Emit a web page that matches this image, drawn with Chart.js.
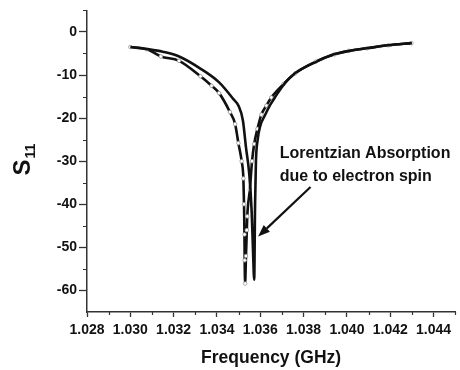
<!DOCTYPE html>
<html>
<head>
<meta charset="utf-8">
<script src="https://cdn.jsdelivr.net/npm/chart.js@4/dist/chart.umd.min.js"></script>
<style>
  html, body { margin: 0; padding: 0; background: #fff; }
</style>
</head>
<body>
<canvas id="s11Chart" width="460" height="370"></canvas>
<script>
// S11 sweep around the spin resonance, two traces
const freqA = [1.0300, 1.0308, 1.0315, 1.0322, 1.0332, 1.0341, 1.03476, 1.0350, 1.0352, 1.03534, 1.03549,
  1.0356, 1.03566, 1.03572, 1.03576, 1.0358, 1.03588, 1.0360, 1.0362, 1.03645, 1.0367, 1.0371, 1.0376,
  1.0386, 1.0394, 1.0401, 1.0409, 1.0419, 1.0430];
const s11A = [-3.5, -4.0, -4.6, -5.6, -8.4, -11.7, -15.6, -17.2, -20.6, -26.8, -32.9,
  -41.4, -50.0, -57.5, -40.0, -30.0, -25.0, -21.8, -19.5, -17.0, -15.0, -12.1, -9.6,
  -6.9, -5.2, -4.4, -3.8, -3.1, -2.6];

const freqB = [1.0300, 1.03077, 1.03141, 1.03225, 1.03324, 1.03375, 1.0341, 1.0346, 1.03484, 1.03499,
  1.03514, 1.03522, 1.03525, 1.03527, 1.03528, 1.0353, 1.03534, 1.03538, 1.0354, 1.03552, 1.03562,
  1.03572, 1.03587, 1.03605, 1.03628, 1.03651, 1.03707, 1.03762, 1.03856, 1.03943, 1.04009,
  1.04092, 1.04191, 1.04298];
const s11B = [-3.5, -4.0, -5.7, -6.7, -10.3, -12.5, -14.2, -18.6, -21.4, -25.8,
  -30.0, -34.0, -40.0, -47.0, -53.0, -58.4, -52.0, -46.0, -42.8, -36.6, -30.0,
  -26.0, -22.5, -19.2, -17.1, -15.2, -12.1, -9.6, -6.9, -5.2, -4.4,
  -3.8, -3.1, -2.6];

const xTicks = [1.028, 1.030, 1.032, 1.034, 1.036, 1.038, 1.040, 1.042, 1.044];
const xMinor = [1.029, 1.031, 1.033, 1.035, 1.037, 1.039, 1.041, 1.043, 1.045];
const yTicks = [-60, -50, -40, -30, -20, -10, 0];
const yMinor = [-55, -45, -35, -25, -15, -5, 5];

// callout for the resonance dip (data coordinates)
const noteLines = ['Lorentzian Absorption', 'due to electron spin'];
const noteAt = { x: 1.0369, y: -28.2, step: -5.4 };
const arrowFrom = { x: 1.03832, y: -36.0 };
const arrowTo = { x: 1.0359, y: -47.5 };

const toPoints = (xs, ys) => xs.map((x, i) => ({ x: x, y: ys[i] }));
const boldFont = px => `bold ${px}px "Liberation Sans", Arial, sans-serif`;

const extras = {
  id: 'extras',
  afterDraw(chart) {
    const ctx = chart.ctx;
    const x = chart.scales.x, y = chart.scales.y;
    ctx.save();

    // minor ticks
    ctx.strokeStyle = '#333';
    ctx.lineWidth = 1.2;
    ctx.beginPath();
    xMinor.forEach(v => {
      const px = Math.round(x.getPixelForValue(v)) + 0.5;
      ctx.moveTo(px, y.bottom);
      ctx.lineTo(px, y.bottom + 3);
    });
    yMinor.forEach(v => {
      const py = Math.round(y.getPixelForValue(v)) + 0.5;
      ctx.moveTo(x.left - 4, py);
      ctx.lineTo(x.left, py);
    });
    ctx.stroke();

    // axis titles
    ctx.fillStyle = '#111';
    ctx.font = boldFont(17.5);
    ctx.textAlign = 'center';
    ctx.textBaseline = 'middle';
    ctx.fillText('Frequency (GHz)', (x.left + x.right) / 2, 358);

    ctx.save();
    ctx.translate(30, 160);
    ctx.rotate(-Math.PI / 2);
    ctx.textAlign = 'left';
    ctx.textBaseline = 'alphabetic';
    ctx.font = boldFont(24);
    const sW = ctx.measureText('S').width;
    ctx.font = boldFont(14);
    const subW = ctx.measureText('11').width;
    const start = -(sW + subW) / 2;
    ctx.font = boldFont(24);
    ctx.fillText('S', start, 0);
    ctx.font = boldFont(14);
    ctx.fillText('11', start + sW + 1, 5);
    ctx.restore();

    // callout text
    ctx.font = boldFont(16);
    ctx.textAlign = 'left';
    ctx.textBaseline = 'middle';
    noteLines.forEach((t, i) => {
      ctx.fillText(t, x.getPixelForValue(noteAt.x), y.getPixelForValue(noteAt.y + i * noteAt.step));
    });

    // arrow
    const x0 = x.getPixelForValue(arrowFrom.x), y0 = y.getPixelForValue(arrowFrom.y);
    const x1 = x.getPixelForValue(arrowTo.x), y1 = y.getPixelForValue(arrowTo.y);
    const ang = Math.atan2(y1 - y0, x1 - x0);
    const head = 12, half = 4.5;
    const bx = x1 - head * Math.cos(ang), by = y1 - head * Math.sin(ang);
    ctx.strokeStyle = '#111';
    ctx.lineWidth = 2.2;
    ctx.beginPath();
    ctx.moveTo(x0, y0);
    ctx.lineTo(bx, by);
    ctx.stroke();
    ctx.beginPath();
    ctx.moveTo(x1, y1);
    ctx.lineTo(bx + half * Math.sin(ang), by - half * Math.cos(ang));
    ctx.lineTo(bx - half * Math.sin(ang), by + half * Math.cos(ang));
    ctx.closePath();
    ctx.fill();

    ctx.restore();
  }
};

new Chart(document.getElementById('s11Chart').getContext('2d'), {
  type: 'line',
  data: {
    datasets: [
      {
        data: toPoints(freqA, s11A),
        borderColor: '#111',
        borderWidth: 2.6,
        pointRadius: 0,
        cubicInterpolationMode: 'monotone'
      },
      {
        data: toPoints(freqB, s11B),
        borderColor: '#111',
        borderWidth: 2.6,
        pointRadius: 1.8,
        pointBackgroundColor: '#fff',
        pointBorderColor: '#999',
        pointBorderWidth: 0.8,
        cubicInterpolationMode: 'monotone'
      }
    ]
  },
  options: {
    responsive: false,
    devicePixelRatio: 1,
    animation: false,
    layout: { padding: { top: 10, right: 1, left: 0, bottom: 0 } },
    plugins: { legend: { display: false }, tooltip: { enabled: false } },
    scales: {
      x: {
        type: 'linear',
        min: 1.028,
        max: 1.045,
        afterBuildTicks: s => { s.ticks = xTicks.map(v => ({ value: v })); },
        afterFit: s => { s.height = 58; },
        grid: { drawOnChartArea: false, tickLength: 5, tickColor: '#333', tickWidth: 1.3 },
        border: { color: '#333', width: 1.5 },
        ticks: {
          padding: 5,
          maxRotation: 0,
          autoSkip: false,
          color: '#111',
          font: { family: '"Liberation Sans", Arial, sans-serif', size: 14, weight: 'bold' },
          callback: v => v.toFixed(3)
        }
      },
      y: {
        min: -65,
        max: 5,
        afterBuildTicks: s => { s.ticks = yTicks.map(v => ({ value: v })); },
        afterFit: s => { s.width = 87; },
        grid: { drawOnChartArea: false, tickLength: 8, tickColor: '#333', tickWidth: 1.3 },
        border: { color: '#333', width: 1.5 },
        ticks: {
          padding: 2,
          color: '#111',
          font: { family: '"Liberation Sans", Arial, sans-serif', size: 14, weight: 'bold' }
        }
      }
    }
  },
  plugins: [extras]
});
</script>
</body>
</html>
